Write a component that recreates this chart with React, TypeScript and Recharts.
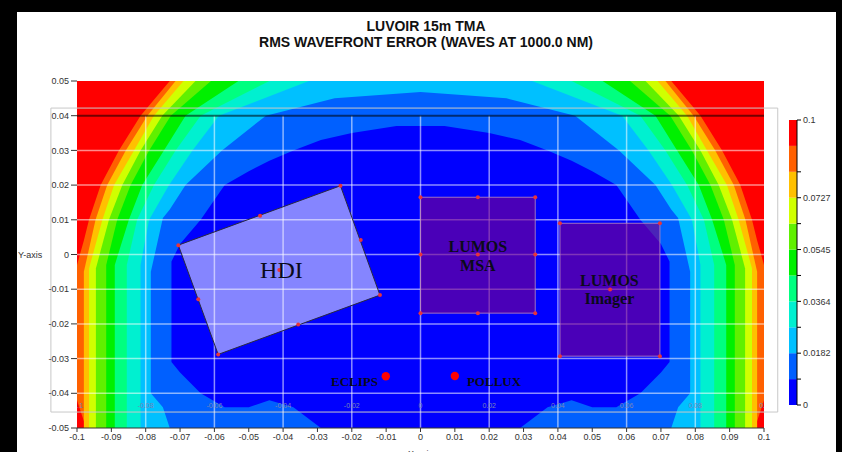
import {
  ComposedChart, Area, Scatter, XAxis, YAxis, ReferenceLine, ReferenceArea, Label,
  BarChart, Bar
} from "recharts";

// axis ticks
const X_TICKS = [-0.1, -0.09, -0.08, -0.07, -0.06, -0.05, -0.04, -0.03, -0.02, -0.01, 0,
  0.01, 0.02, 0.03, 0.04, 0.05, 0.06, 0.07, 0.08, 0.09, 0.1];
const Y_TICKS = [-0.05, -0.04, -0.03, -0.02, -0.01, 0, 0.01, 0.02, 0.03, 0.04, 0.05];

// colour levels, 0 = lowest error (dark blue) .. 10 = highest (red)
const LEVEL_COLORS = ['#0000ff', '#0060ff', '#00c0ff', '#00f0d0', '#00ff80', '#00f000',
  '#60f000', '#d0ff00', '#ffc000', '#ff6000', '#ff0000'];
const COLORBAR_EDGES = [0, 0.00909, 0.01818, 0.02727, 0.03636, 0.04545, 0.05455,
  0.06364, 0.07273, 0.08182, 0.09091, 0.1];
const COLORBAR_TICKS = [0, 0.00909, 0.01818, 0.02727, 0.03636, 0.04545, 0.05455,
  0.06364, 0.07273, 0.08182, 0.1];
const COLORBAR_LABELS = ['0', '', '0.0182', '', '0.0364', '', '0.0545', '', '0.0727', '', '0.1'];

// contour regions (level <= k), left half: [x, low y, high y]
const R10 = [[-0.1, -0.05, 0.05], [0, -0.05, 0.05]];
const R9 = [[-0.1, -0.042, -0.003], [-0.098, -0.048, 0.004], [-0.0965, -0.05, 0.01],
  [-0.0931, -0.05, 0.02], [-0.0878, -0.05, 0.03], [-0.0815, -0.05, 0.04],
  [-0.073, -0.05, 0.05], [0, -0.05, 0.05]];
const R8 = [[-0.098, -0.05, -0.005], [-0.0946, -0.05, 0.01], [-0.0912, -0.05, 0.02],
  [-0.0858, -0.05, 0.03], [-0.0795, -0.05, 0.04], [-0.0713, -0.05, 0.05], [0, -0.05, 0.05]];
const R7 = [[-0.0965, -0.05, -0.004], [-0.0926, -0.05, 0.01], [-0.0892, -0.05, 0.02],
  [-0.0834, -0.05, 0.03], [-0.0776, -0.05, 0.04], [-0.069, -0.05, 0.05], [0, -0.05, 0.05]];
const R6 = [[-0.0945, -0.05, -0.004], [-0.0907, -0.05, 0.01], [-0.0868, -0.05, 0.02],
  [-0.0815, -0.05, 0.03], [-0.0752, -0.05, 0.04], [-0.0655, -0.05, 0.05], [0, -0.05, 0.05]];
const R5 = [[-0.0915, -0.05, -0.003], [-0.0883, -0.05, 0.01], [-0.0844, -0.05, 0.02],
  [-0.079, -0.05, 0.03], [-0.0727, -0.05, 0.04], [-0.061, -0.05, 0.05], [0, -0.05, 0.05]];
const R4 = [[-0.089, -0.05, -0.003], [-0.0849, -0.05, 0.01], [-0.081, -0.05, 0.02],
  [-0.0747, -0.05, 0.03], [-0.0684, -0.05, 0.04], [-0.053, -0.05, 0.05], [0, -0.05, 0.05]];
const R3 = [[-0.0855, -0.05, -0.003], [-0.0825, -0.05, 0.01], [-0.0776, -0.05, 0.02],
  [-0.0713, -0.05, 0.03], [-0.064, -0.05, 0.04], [-0.044, -0.05, 0.05], [0, -0.05, 0.05]];
const R2 = [[-0.0815, -0.05, -0.003], [-0.079, -0.05, 0.01], [-0.0732, -0.05, 0.02],
  [-0.0664, -0.05, 0.03], [-0.0587, -0.05, 0.04], [-0.0325, -0.05, 0.05], [0, -0.05, 0.05]];
const R1 = [[-0.0785, -0.04, -0.005], [-0.075, -0.044, 0.0105], [-0.073, -0.05, 0.013],
  [-0.0684, -0.05, 0.02], [-0.0578, -0.05, 0.03], [-0.045, -0.05, 0.04],
  [-0.025, -0.05, 0.045], [0, -0.05, 0.0468]];
const R0 = [[-0.0725, -0.031, -0.002], [-0.07, -0.034, 0.003], [-0.064, -0.04, 0.01],
  [-0.057, -0.044, 0.02], [-0.05, -0.044, 0.024], [-0.044, -0.042, 0.027],
  [-0.037, -0.044, 0.03], [-0.029, -0.05, 0.033], [-0.02, -0.05, 0.035],
  [-0.007, -0.05, 0.037], [0, -0.05, 0.037]];
const REGIONS = [R0, R1, R2, R3, R4, R5, R6, R7, R8, R9, R10];

// instrument footprints
const HDI_CORNERS = [{ x: -0.0705, y: 0.0027 }, { x: -0.0233, y: 0.0198 },
  { x: -0.0118, y: -0.0117 }, { x: -0.0589, y: -0.0288 }];
const MSA_CORNERS = [{ x: 0, y: 0.0165 }, { x: 0.0334, y: 0.0165 },
  { x: 0.0334, y: -0.0169 }, { x: 0, y: -0.0169 }];
const IMAGER_CORNERS = [{ x: 0.0406, y: 0.009 }, { x: 0.0697, y: 0.009 },
  { x: 0.0697, y: -0.0293 }, { x: 0.0406, y: -0.0293 }];
const FIELD_MARKS = [
  { x: -0.0467, y: 0.0112 }, { x: -0.0174, y: 0.0042 }, { x: -0.0356, y: -0.0202 },
  { x: -0.0647, y: -0.0129 }, { x: -0.0411, y: -0.0045 },
  { x: 0.0167, y: 0.0165 }, { x: 0.0167, y: -0.0169 }, { x: 0, y: 0 }, { x: 0.0334, y: 0 },
  { x: 0.0167, y: 0 }, { x: 0.0552, y: -0.0101 }
];
const TARGETS = [{ x: -0.0101, y: -0.0351 }, { x: 0.01, y: -0.035 }];

const LABELS = [
  { x: -0.0405, y: -0.0045, text: 'HDI', size: 24, weight: 'normal' },
  { x: 0.0167, y: 0.0022, text: 'LUMOS', size: 16, weight: 'bold' },
  { x: 0.0167, y: -0.0032, text: 'MSA', size: 16, weight: 'bold' },
  { x: 0.055, y: -0.0076, text: 'LUMOS', size: 16, weight: 'bold' },
  { x: 0.055, y: -0.0127, text: 'Imager', size: 16, weight: 'bold' },
  { x: -0.0192, y: -0.0367, text: 'ECLIPS', size: 13, weight: 'bold' },
  { x: 0.0214, y: -0.0367, text: 'POLLUX', size: 13, weight: 'bold' }
];

// overlay grid and its own tick labels
const GRID_X = [-0.08, -0.06, -0.04, -0.02, 0, 0.02, 0.04, 0.06, 0.08];
const GRID_Y = [-0.04, -0.03, -0.02, -0.01, 0, 0.01, 0.02, 0.03];
const INNER_X_LABELS = [-0.1, -0.08, -0.06, -0.04, -0.02, 0, 0.02, 0.04, 0.06, 0.08, 0.1];

const mirror = (half: number[][]) => [
  ...half,
  ...half.slice(0, -1).reverse().map(([x, lo, hi]) => [-x, lo, hi])
].map(([x, lo, hi]) => ({ x, r: [lo, hi] }));

const polygon = (fill: string, stroke: string) => (props: any) => {
  const pts = props.points || [];
  const d = pts.map((p: any, i: number) => `${i ? 'L' : 'M'}${p.x},${p.y}`).join(' ') + ' Z';
  return <path d={d} fill={fill} stroke={stroke} strokeWidth={1} />;
};

const noDot = () => <g />;
const smallDot = (p: any) => <circle cx={p.cx} cy={p.cy} r={2} fill="#e8333a" />;
const bigDot = (p: any) => <circle cx={p.cx} cy={p.cy} r={4.2} fill="#ff0000" />;
const textShape = (p: any) => (
  <text x={p.cx} y={p.cy} textAnchor="middle" dominantBaseline="central"
    fontFamily="'Liberation Serif', 'DejaVu Serif', serif" fontSize={p.payload.size}
    fontWeight={p.payload.weight} fill="#0a0a1a">{p.payload.text}</text>
);
const innerLabel = (p: any) => (
  <text x={p.cx} y={p.cy} textAnchor="middle" dominantBaseline="central"
    fontFamily="'Liberation Sans', Arial, sans-serif" fontSize={7} fill="#7a84b8">
    {String(p.payload.x)}
  </text>
);

const font = "'Liberation Sans', Arial, sans-serif";

export default function App() {
  const barRow: any = { name: 'scale' };
  COLORBAR_EDGES.slice(1).forEach((e, i) => { barRow[`b${i}`] = e - COLORBAR_EDGES[i]; });

  return (
    <div style={{ position: 'absolute', left: 0, top: 0, width: 842, height: 452, background: '#000', overflow: 'hidden' }}>
      <div style={{ position: 'absolute', left: 17, top: 12, width: 819, height: 440, background: '#fff' }} />
      <div style={{ position: 'absolute', left: 0, top: 18, width: 852, textAlign: 'center',
        fontFamily: "'Liberation Sans Narrow', 'Liberation Sans', Arial, sans-serif", fontWeight: 'bold',
        fontSize: 14, lineHeight: '16px', color: '#111' }}>
        <div>LUVOIR 15m TMA</div>
        <div>RMS WAVEFRONT ERROR (WAVES AT 1000.0 NM)</div>
      </div>

      <div style={{ position: 'absolute', left: 0, top: 0 }}>
        <ComposedChart width={842} height={452} margin={{ top: 81, right: 78, bottom: 0, left: 17 }}>
          <XAxis type="number" dataKey="x" domain={[-0.1, 0.1]} ticks={X_TICKS} interval={0}
            allowDataOverflow tickFormatter={(v) => String(v)} height={24} tickSize={4}
            tick={{ fontSize: 9, fill: '#333', fontFamily: font }} stroke="#333">
            <Label value="X-axis" position="insideBottom" offset={-5}
              style={{ fontSize: 9, fill: '#333', fontFamily: font }} />
          </XAxis>
          <YAxis type="number" dataKey="y" domain={[-0.05, 0.05]} ticks={Y_TICKS} interval={0}
            allowDataOverflow tickFormatter={(v) => String(v)} width={60} tickSize={6}
            axisLine={false} tick={{ fontSize: 9, fill: '#333', fontFamily: font }} stroke="#333">
            <Label value="Y-axis" position="insideLeft" offset={1} angle={0}
              style={{ fontSize: 9, fill: '#333', fontFamily: font, textAnchor: 'start' }} />
          </YAxis>

          {REGIONS.map((reg, k) => REGIONS.length - 1 - k).map((k) => (
            <Area key={`lvl${k}`} data={mirror(REGIONS[k])} dataKey="r" type="linear"
              stroke="none" fill={LEVEL_COLORS[k]} fillOpacity={1} dot={false} activeDot={false}
              isAnimationActive={false} />
          ))}

          <Scatter data={MSA_CORNERS} line={polygon('rgba(120,0,140,0.62)', 'rgba(190,140,190,0.8)')}
            shape={smallDot} isAnimationActive={false} />
          <Scatter data={IMAGER_CORNERS} line={polygon('rgba(120,0,140,0.62)', 'rgba(190,140,190,0.8)')}
            shape={smallDot} isAnimationActive={false} />
          <Scatter data={HDI_CORNERS} line={polygon('rgba(255,255,255,0.52)', '#2a2a40')}
            shape={smallDot} isAnimationActive={false} />

          {GRID_X.map((x) => (
            <ReferenceLine key={`gx${x}`} segment={[{ x, y: 0.04 }, { x, y: -0.05 }]}
              stroke="rgba(255,255,255,0.55)" strokeWidth={1.5} />
          ))}
          {GRID_Y.map((y) => (
            <ReferenceLine key={`gy${y}`} y={y} stroke="rgba(255,255,255,0.55)" strokeWidth={1.5} />
          ))}
          <ReferenceLine y={0.04} stroke="rgba(0,0,0,0.55)" strokeWidth={2} />
          <ReferenceArea x1={-0.1076} x2={0.104} y1={-0.0454} y2={0.0422} ifOverflow="visible"
            fill="none" stroke="#c8c8c8" strokeWidth={1} />

          <Scatter data={FIELD_MARKS} shape={smallDot} isAnimationActive={false} />
          <Scatter data={TARGETS} shape={bigDot} isAnimationActive={false} />
          <Scatter data={INNER_X_LABELS.map((x) => ({ x, y: -0.0434 }))} shape={innerLabel}
            isAnimationActive={false} />
          <Scatter data={LABELS} shape={textShape} isAnimationActive={false} />
          <Scatter data={[]} shape={noDot} isAnimationActive={false} />
        </ComposedChart>
      </div>

      <div style={{ position: 'absolute', left: 789, top: 115 }}>
        <BarChart width={60} height={295} data={[barRow]} margin={{ top: 5, right: 0, bottom: 5, left: 0 }}
          barCategoryGap={0} barGap={0}>
          <XAxis dataKey="name" hide />
          <YAxis orientation="right" width={52} domain={[0, 0.1]} ticks={COLORBAR_TICKS} interval={0}
            tickFormatter={(v) => COLORBAR_LABELS[COLORBAR_TICKS.indexOf(v)] ?? ''}
            tickSize={4} stroke="#000" tick={{ fontSize: 9, fill: '#333', fontFamily: font }} />
          {LEVEL_COLORS.map((c, i) => (
            <Bar key={`b${i}`} dataKey={`b${i}`} stackId="s" fill={c} isAnimationActive={false} />
          ))}
        </BarChart>
      </div>
    </div>
  );
}
